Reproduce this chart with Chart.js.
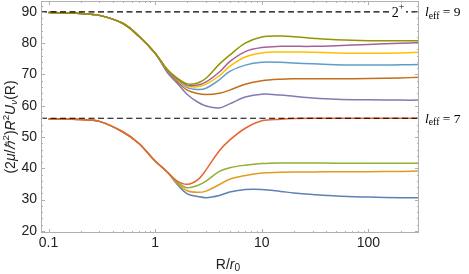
<!DOCTYPE html>
<html>
<head>
<meta charset="utf-8">
<script src="https://cdn.jsdelivr.net/npm/chart.js@4.4.1/dist/chart.umd.min.js"></script>
<style>
  html, body { margin: 0; padding: 0; background: #fff; }
  #wrap { width: 469px; height: 274px; }
</style>
</head>
<body>
<div id="wrap"><canvas id="chart" width="469" height="274"></canvas></div>
<script>
// ===== Data =====
const R = [0.1, 0.2, 0.3, 0.5, 0.7, 1, 1.3, 1.6, 2, 2.5, 3, 4, 5, 7, 10, 15, 20, 30, 50, 100, 200, 300];

// l_eff = 7 group
const blueVals    = [55.8, 55.6, 55.0, 51.6, 48.0, 42.3, 38.8, 35.0, 31.8, 31.0, 30.6, 31.3, 32.4, 33.2, 33.2, 32.6, 32.1, 31.6, 31.1, 30.8, 30.6, 30.6];
const orangeVals  = [55.8, 55.6, 55.0, 51.6, 48.0, 42.3, 38.8, 35.3, 32.8, 32.3, 32.7, 34.8, 36.5, 37.7, 38.5, 38.7, 38.8, 38.8, 38.9, 38.9, 39.0, 39.1];
const greenVals   = [55.8, 55.6, 55.0, 51.6, 48.0, 42.3, 38.8, 35.6, 33.8, 34.5, 35.9, 39.0, 40.2, 41.0, 41.5, 41.7, 41.7, 41.7, 41.6, 41.6, 41.6, 41.6];
const redVals     = [55.8, 55.6, 55.0, 51.6, 48.0, 42.3, 38.8, 36.0, 34.9, 36.3, 39.5, 45.6, 49.0, 52.8, 55.2, 55.7, 55.9, 56.0, 56.0, 56.0, 56.0, 56.0];

// l_eff = 9 group
const purpleVals  = [89.8, 89.5, 88.9, 86.3, 82.3, 76.8, 70.6, 67.3, 63.6, 61.2, 59.9, 59.3, 60.6, 62.8, 63.7, 63.4, 63.0, 62.5, 62.1, 61.9, 61.8, 61.8];
const brownVals   = [89.8, 89.5, 88.9, 86.3, 82.3, 76.8, 71.0, 67.8, 65.0, 63.9, 63.6, 64.0, 65.0, 66.9, 68.0, 68.5, 68.6, 68.6, 68.6, 68.7, 68.9, 69.1];
const ltBlueVals  = [89.8, 89.5, 88.9, 86.3, 82.3, 76.8, 71.3, 68.4, 65.8, 65.2, 65.6, 68.3, 71.0, 73.0, 73.9, 73.9, 73.7, 73.4, 73.1, 73.0, 73.1, 73.2];
const yellowVals  = [89.8, 89.5, 88.9, 86.3, 82.3, 76.8, 71.4, 68.6, 66.3, 66.1, 66.9, 69.6, 72.6, 75.6, 76.9, 77.2, 77.2, 77.1, 76.9, 76.8, 76.9, 77.1];
const magentaVals = [89.8, 89.5, 88.9, 86.3, 82.3, 76.8, 71.5, 68.7, 66.6, 66.6, 67.6, 70.8, 74.1, 77.3, 78.6, 79.0, 79.0, 79.0, 79.2, 79.6, 80.0, 80.2];
const oliveVals   = [89.8, 89.5, 88.9, 86.3, 82.3, 76.8, 71.6, 68.9, 67.0, 67.3, 68.8, 73.3, 76.2, 80.0, 82.0, 82.3, 82.1, 81.6, 81.1, 80.8, 80.8, 80.8];

const asymptotes = [90, 56];
const xTicks = [0.1, 1, 10, 100];
const yTicks = [20, 30, 40, 50, 60, 70, 80, 90];

const series = [
  { vals: blueVals,    color: "#5E81B5" },
  { vals: orangeVals,  color: "#E19C24" },
  { vals: greenVals,   color: "#8FB032" },
  { vals: redVals,     color: "#EB6235" },
  { vals: purpleVals,  color: "#8778B3" },
  { vals: brownVals,   color: "#C56E1A" },
  { vals: ltBlueVals,  color: "#5D9EC7" },
  { vals: yellowVals,  color: "#FFBF00" },
  { vals: magentaVals, color: "#A5609D" },
  { vals: oliveVals,   color: "#929600" }
];

const X_MIN = 0.085, X_MAX = 298;
const SANS = "'Liberation Sans', Arial, sans-serif";
const SERIF = "'Liberation Serif', 'Times New Roman', serif";

// ===== Datasets =====
const datasets = series.map((s, i) => ({
  data: R.map((r, k) => ({ x: r, y: s.vals[k] })),
  borderColor: s.color,
  borderWidth: 1.5,
  pointRadius: 0,
  fill: false,
  tension: 0.35,
  order: -i
}));

asymptotes.forEach(v => {
  datasets.push({
    data: [{ x: X_MIN, y: v }, { x: X_MAX, y: v }],
    borderColor: "#000",
    borderWidth: 1.2,
    borderDash: [6, 3.5],
    pointRadius: 0,
    fill: false,
    order: -20
  });
});

// ===== Rich text helper =====
// parts: { t, it, sc, dy }  (italic, scale, vertical shift in em)
function richWidth(ctx, parts, size, family) {
  let w = 0;
  parts.forEach(p => {
    ctx.font = (p.it ? "italic " : "") + (size * (p.sc || 1)) + "px " + family;
    w += ctx.measureText(p.t).width;
  });
  return w;
}

function drawRich(ctx, parts, x, y, size, family, align) {
  const total = richWidth(ctx, parts, size, family);
  let cx = align === "left" ? x : x - total / 2;
  ctx.textBaseline = "middle";
  ctx.textAlign = "left";
  parts.forEach(p => {
    ctx.font = (p.it ? "italic " : "") + (size * (p.sc || 1)) + "px " + family;
    ctx.fillText(p.t, cx, y + (p.dy || 0) * size);
    cx += ctx.measureText(p.t).width;
  });
  return total;
}

// ===== Frame, ticks and labels =====
const framePlugin = {
  id: "frame",
  afterDatasetsDraw(chart) {
    const ctx = chart.ctx;
    const a = chart.chartArea;
    const xs = chart.scales.x, ys = chart.scales.y;
    ctx.save();

    // "2+" label over the upper dashed line
    const y90 = ys.getPixelForValue(90);
    ctx.fillStyle = "#fff";
    ctx.fillRect(390, y90 - 8, 16, 16);
    ctx.fillStyle = "#000";
    drawRich(ctx, [{ t: "2" }, { t: "+", sc: 0.7, dy: -0.4 }], 398, y90 + 1, 14, SERIF);

    // frame
    ctx.strokeStyle = "#b0b0b0";
    ctx.lineWidth = 1;
    ctx.strokeRect(a.left + 0.5, a.top + 0.5, a.right - a.left - 1, a.bottom - a.top - 1);

    // x ticks (top and bottom)
    ctx.beginPath();
    for (let d = -1; d <= 2; d++) {
      for (let m = 1; m <= 9; m++) {
        const v = m * Math.pow(10, d);
        if (v < X_MIN || v > X_MAX) continue;
        const px = Math.round(xs.getPixelForValue(v)) + 0.5;
        const len = m === 1 ? 4 : 2;
        ctx.moveTo(px, a.bottom); ctx.lineTo(px, a.bottom - len);
        ctx.moveTo(px, a.top); ctx.lineTo(px, a.top + len);
      }
    }
    // y ticks (left and right)
    for (let v = 20; v <= 92; v += 2) {
      const py = Math.round(ys.getPixelForValue(v)) + 0.5;
      const len = v % 10 === 0 ? 4 : 2;
      ctx.moveTo(a.left, py); ctx.lineTo(a.left + len, py);
      ctx.moveTo(a.right, py); ctx.lineTo(a.right - len, py);
    }
    ctx.stroke();

    // right-side labels
    ctx.fillStyle = "#000";
    const leff = n => [{ t: "l", it: true }, { t: "eff", sc: 0.72, dy: 0.25 }, { t: " = " + n }];
    drawRich(ctx, leff(9), 425, y90 + 1, 13.5, SERIF, "left");
    drawRich(ctx, leff(7), 425, ys.getPixelForValue(56) + 1, 13.5, SERIF, "left");

    // axis titles
    ctx.fillStyle = "#222";
    drawRich(ctx, [{ t: "R/" }, { t: "r", it: true }, { t: "0", sc: 0.72, dy: 0.25 }], 228, 265, 14, SANS);

    ctx.translate(11, 127);
    ctx.rotate(-Math.PI / 2);
    drawRich(ctx, [
      { t: "(2" }, { t: "\u03bc", it: true }, { t: "/" }, { t: "\u210f", it: true },
      { t: "2", sc: 0.7, dy: -0.35 }, { t: ")" }, { t: "R", it: true },
      { t: "2", sc: 0.7, dy: -0.35 }, { t: "U", it: true }, { t: "\u03bd", it: true, sc: 0.7, dy: 0.25 },
      { t: "(R)" }
    ], 0, 0, 14, SANS);
    ctx.restore();
  }
};

// ===== Chart =====
new Chart(document.getElementById("chart"), {
  type: "line",
  data: { datasets: datasets },
  plugins: [framePlugin],
  options: {
    responsive: false,
    animation: false,
    layout: { padding: { top: 1, right: 50, left: 0, bottom: 0 } },
    plugins: { legend: { display: false }, tooltip: { enabled: false } },
    scales: {
      x: {
        type: "logarithmic",
        min: X_MIN,
        max: X_MAX,
        grid: { display: false, drawTicks: false },
        border: { display: false },
        afterBuildTicks: s => { s.ticks = xTicks.map(v => ({ value: v })); },
        afterFit: s => { s.height = 41; s.paddingLeft = 0; s.paddingRight = 0; },
        ticks: {
          padding: 2,
          color: "#222",
          font: { family: SANS, size: 14 },
          maxRotation: 0,
          autoSkip: false,
          callback: v => (v < 1 ? v.toFixed(1) : String(Math.round(v)))
        }
      },
      y: {
        type: "linear",
        min: 19.3,
        max: 93.5,
        grid: { display: false, drawTicks: false },
        border: { display: false },
        afterBuildTicks: s => { s.ticks = yTicks.map(v => ({ value: v })); },
        afterFit: s => { s.width = 41; s.paddingTop = 0; s.paddingBottom = 0; },
        ticks: {
          padding: 4,
          color: "#222",
          font: { family: SANS, size: 14 }
        }
      }
    }
  }
});
</script>
</body>
</html>
